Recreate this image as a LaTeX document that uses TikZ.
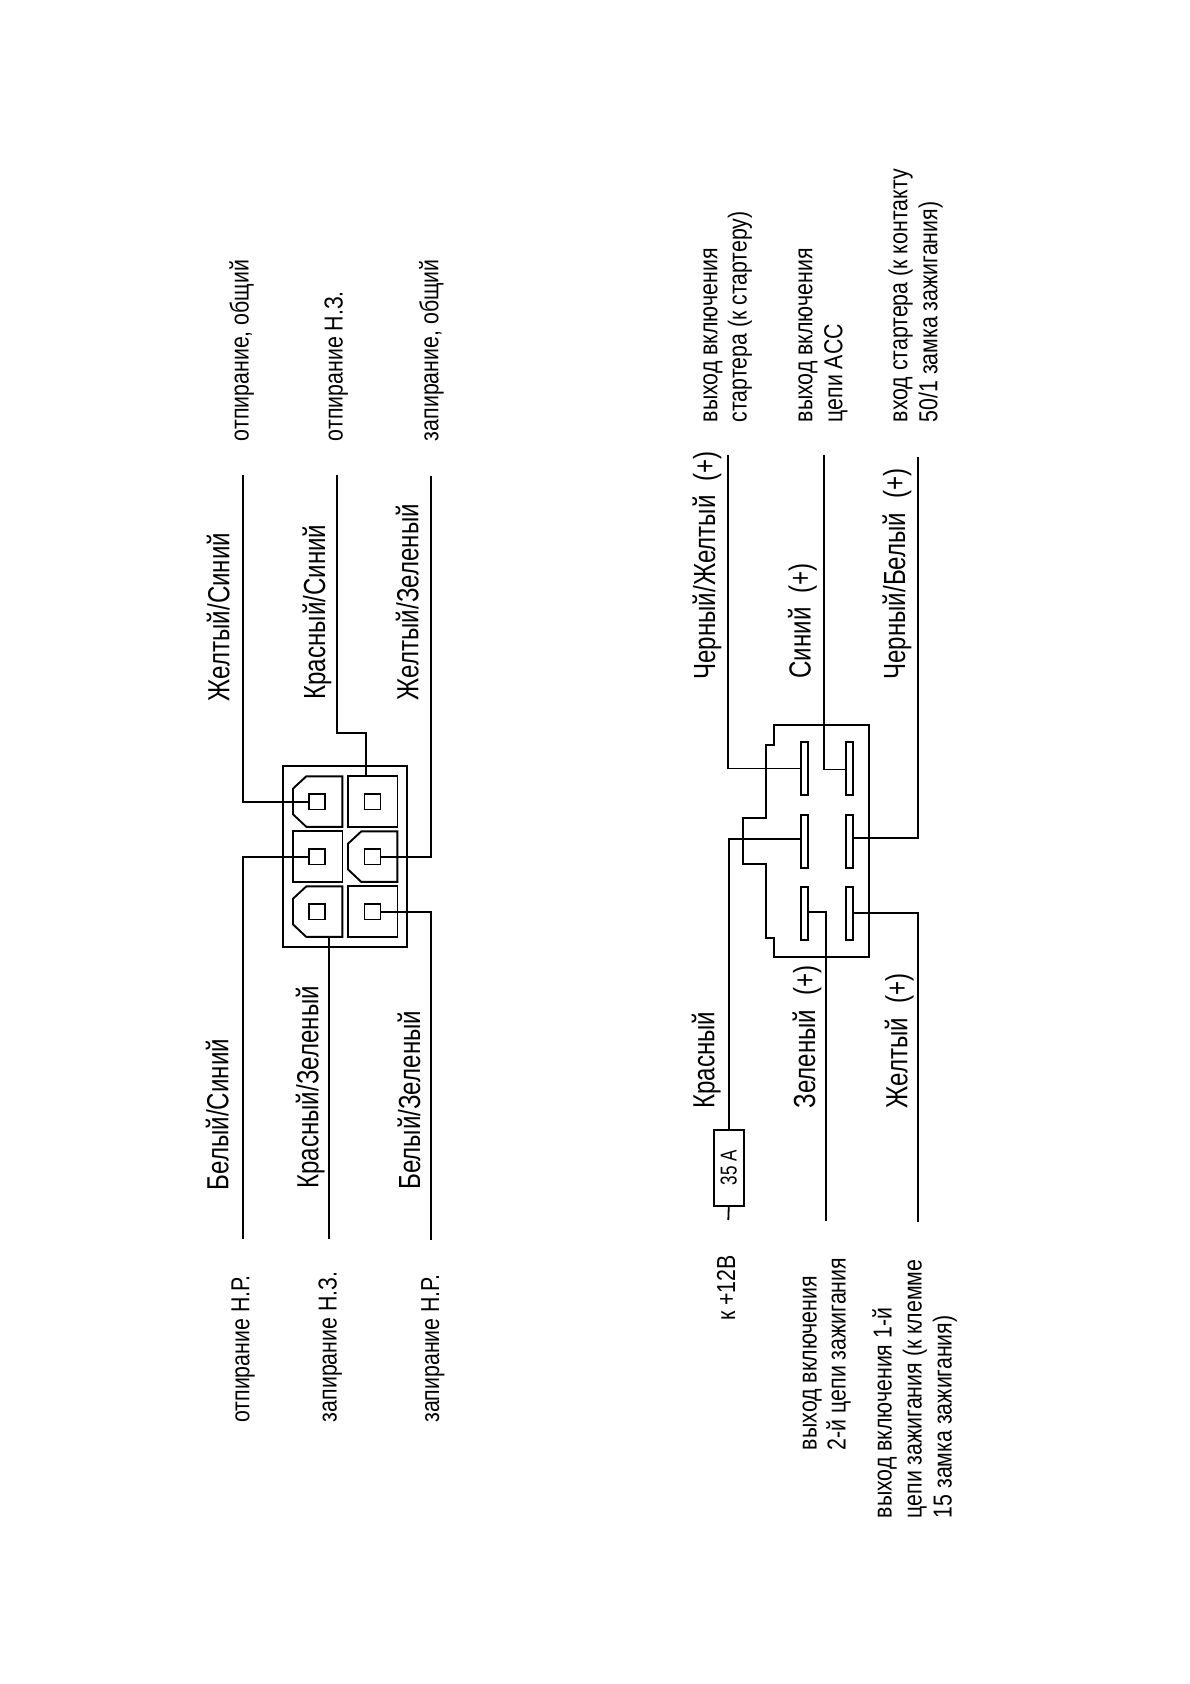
\documentclass[tikz,border=0pt]{standalone}
\usepackage{fontspec}
\setmainfont{Liberation Sans}
\newfontfamily\nfont[FakeStretch=0.82]{Liberation Sans}
\newfontfamily\bfontn[FakeStretch=0.79]{Liberation Sans}
\newfontfamily\ffont[FakeStretch=0.74]{Liberation Sans}
\tikzset{
  lab/.style={inner sep=0pt,outer sep=0pt,anchor=base west,rotate=90,text=black},
  biglab/.style={lab,font=\bfontn\fontsize{30.5}{36}\selectfont},
  smalllab/.style={lab,font=\nfont\fontsize{26}{31}\selectfont},
  wire/.style={draw=black,line width=1.8pt},
  outl/.style={draw=black,line width=1.9pt,line join=miter},
  cell/.style={outl,rectangle,inner sep=0pt,outer sep=0pt,minimum width=49.5pt,minimum height=50.5pt},
  pin/.style={outl,rectangle,inner sep=0pt,outer sep=0pt,minimum width=16pt,minimum height=15.5pt},
  blade/.style={outl,rectangle,inner sep=0pt,outer sep=0pt,minimum width=7pt,minimum height=53pt},
  fusebox/.style={outl,rectangle,rotate=90,inner sep=0pt,outer sep=0pt,minimum width=75.7pt,minimum height=29.7pt,font=\ffont\fontsize{23}{27}\selectfont}
}
\newcommand{\chamfcell}[2]{% left x, top y
  \draw[outl] (#1+13.3,#2) -- (#1+49.3,#2) -- (#1+49.3,#2+50.5) -- (#1+13.3,#2+50.5) -- (#1,#2+38) -- (#1,#2+12.3) -- cycle;}
\newcommand{\dblgap}{\hspace{7.5pt} }
\begin{document}
\begin{tikzpicture}[x=1pt,y=-1pt]
\useasboundingbox[fill=white] (0,0) rectangle (1190,1684);

% ---- upper connector
\draw[outl] (282.7,766) rectangle (407.3,947.3);
\chamfcell{293}{776.3}
\chamfcell{293}{886.4}
\chamfcell{348}{831.4}
\node[cell] (c12) at (372.7,801.5) {};
\node[cell] (c21) at (317.7,856.6) {};
\node[cell] (c32) at (372.7,911.6) {};
\node[pin] (p11) at (317,801.7) {};
\node[pin] (p12) at (372.5,801.7) {};
\node[pin] (p21) at (317,856.7) {};
\node[pin] (p22) at (372.5,856.7) {};
\node[pin] (p31) at (317,911.7) {};
\node[pin] (p32) at (372.5,911.7) {};

\coordinate (w1) at (242.7,475);
\coordinate (w2) at (337.3,475);
\coordinate (w2b) at (337.3,733.3);
\coordinate (w2c) at (366,776.3);
\coordinate (w3) at (430.7,476);
\coordinate (w4) at (242.7,1238.5);
\coordinate (w5a) at (328.7,937);
\coordinate (w5) at (328.7,1238.5);
\coordinate (w6) at (430.7,1240);
\draw[wire] (w1) |- (p11.west);
\draw[wire] (w2) -- (w2b) -| (w2c);
\draw[wire] (w3) |- (p22.east);
\draw[wire] (w4) |- (p21.west);
\draw[wire] (w5a) -- (w5);
\draw[wire] (w6) |- (p32.east);

\node[biglab] (t1) at (229.3,701) {Желтый/Синий};
\node[biglab] (t2) at (325,699.5) {Красный/Синий};
\node[biglab] (t3) at (418.3,700) {Желтый/Зеленый};
\node[biglab] (t4) at (228.3,1190) {Белый/Синий};
\node[biglab] (t5) at (318.3,1188.5) {Красный/Зеленый};
\node[biglab] (t6) at (420,1189.5) {Белый/Зеленый};
\node[smalllab] (t7) at (248.7,441) {отпирание, общий};
\node[smalllab] (t8) at (342.7,441) {отпирание Н.З.};
\node[smalllab] (t9) at (438.3,441) {запирание, общий};
\node[smalllab] (t10) at (249.3,1422.7) {отпирание Н.Р.};
\node[smalllab] (t11) at (336.7,1422) {запирание Н.З.};
\node[smalllab] (t12) at (439,1422.7) {запирание Н.Р.};

% ---- lower connector
\draw[outl,line width=2.1pt] (774,725) -- (869.3,725) -- (869.3,957.3) -- (774,957.3) -- (774,938.3) -- (766,938.3) -- (766,864.3) -- (743.3,864.3) -- (743.3,817.7) -- (766,817.7) -- (766,745.3) -- (774,745.3) -- cycle;
\node[blade] (b11) at (804.2,768.5) {};
\node[blade] (b12) at (849.2,768.5) {};
\node[blade] (b21) at (804.2,841.3) {};
\node[blade] (b22) at (849.2,841.3) {};
\node[blade] (b31) at (804.2,913.8) {};
\node[blade] (b32) at (849.2,913.8) {};
\node[fusebox] (fuse) at (728.8,1167.9) {35 A};

\coordinate (r1) at (728.3,455);
\coordinate (r2) at (824,455);
\coordinate (r3) at (918,456.7);
\coordinate (r4) at (728.3,1220);
\coordinate (r5) at (826,1220.7);
\coordinate (r6) at (918,1221.7);
\draw[wire] (r1) |- (b11.west);
\draw[wire] (r2) |- ([yshift=-1pt]b12.west);
\draw[wire] (r3) |- ([yshift=3.6pt]b22.east);
\draw[wire] (fuse.east) |- ([yshift=2pt]b21.west);
\draw[wire] (r4) -- (fuse.west);
\draw[wire] (r5) |- ([yshift=2pt]b31.east);
\draw[wire] (r6) |- ([yshift=1.1pt]b32.east);

\node[biglab] (u1) at (715,679.5) {Черный/Желтый\dblgap(+)};
\node[biglab] (u2) at (810.7,678.5) {Синий\dblgap(+)};
\node[biglab] (u3) at (905,679.5) {Черный/Белый\dblgap(+)};
\node[biglab] (u4) at (714.3,1108.5) {Красный};
\node[biglab] (u5) at (815,1108.5) {Зеленый\dblgap(+)};
\node[biglab] (u6) at (907.3,1108.5) {Желтый\dblgap(+)};

\node[smalllab] (v1) at (735,1320.7) {к +12В};
\node[smalllab] (v2) at (816.7,1450) {выход включения};
\node[smalllab] (v3) at (845.7,1450) {2-й цепи зажигания};
\node[smalllab] (v4) at (891.7,1518.3) {выход включения 1-й};
\node[smalllab] (v5) at (921.7,1518.3) {цепи зажигания (к клемме};
\node[smalllab] (v6) at (951.7,1518.3) {15 замка зажигания)};
\node[smalllab] (v7) at (717.3,422.3) {выход включения};
\node[smalllab] (v8) at (746.7,422.3) {стартера (к стартеру)};
\node[smalllab] (v9) at (812.3,422.3) {выход включения};
\node[smalllab] (v10) at (842.3,422.3) {цепи ACC};
\node[smalllab] (v11) at (907.3,422.3) {вход стартера (к контакту};
\node[smalllab] (v12) at (937.3,422.3) {50/1 замка зажигания)};
\end{tikzpicture}
\end{document}
